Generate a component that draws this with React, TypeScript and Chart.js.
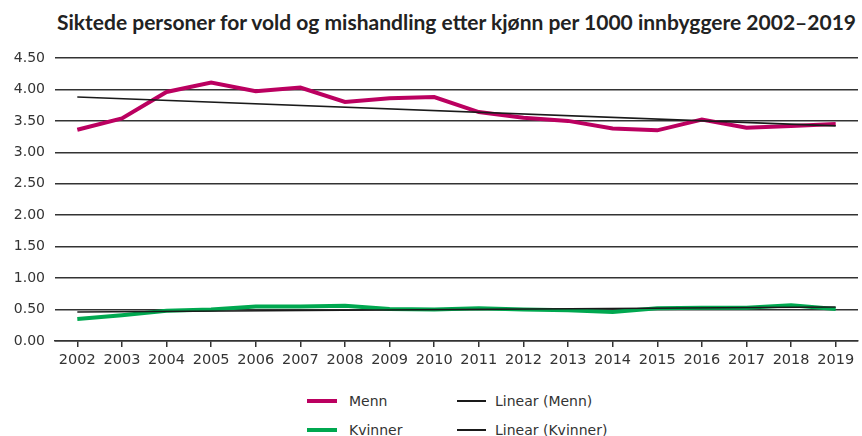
import React, { useEffect, useRef } from "react";
import { Chart, registerables } from "chart.js";

Chart.register(...registerables);

const TITLE = "Siktede personer for vold og mishandling etter kjønn per 1000 innbyggere 2002–2019";
const years = ["2002","2003","2004","2005","2006","2007","2008","2009","2010","2011","2012","2013","2014","2015","2016","2017","2018","2019"];
const menn = [3.36,3.54,3.96,4.11,3.97,4.03,3.80,3.86,3.88,3.64,3.55,3.50,3.38,3.35,3.52,3.39,3.42,3.45];
const kvinner = [0.35,0.41,0.48,0.50,0.55,0.55,0.56,0.51,0.50,0.52,0.50,0.49,0.46,0.52,0.53,0.53,0.57,0.51];
// linear trend lines: value at first year, value at last year
const trendMenn = [3.88, 3.42];
const trendKvinner = [0.46, 0.54];
const yTicks = [0, 0.5, 1, 1.5, 2, 2.5, 3, 3.5, 4, 4.5];

const MAGENTA = "#bb0060";
const GREEN = "#00a850";
const TEXT = "#333333";
const FONT = "'DejaVu Sans', sans-serif";

function trendSeries(t: number[]) {
  return years.map((_, i) => (i === 0 ? t[0] : i === years.length - 1 ? t[1] : null));
}

export default function App() {
  const ref = useRef<HTMLCanvasElement | null>(null);
  useEffect(() => {
    if (!ref.current) return;
    const chart = new Chart(ref.current, {
      type: "line",
      data: {
        labels: years,
        datasets: [
          { label: "Menn", data: menn, borderColor: MAGENTA, borderWidth: 4, pointRadius: 0, order: 2, tension: 0 },
          { label: "Linear (Menn)", data: trendSeries(trendMenn), borderColor: "#1a1a1a", borderWidth: 1.6, pointRadius: 0, spanGaps: true, order: 0 },
          { label: "Kvinner", data: kvinner, borderColor: GREEN, borderWidth: 4, pointRadius: 0, order: 2, tension: 0 },
          { label: "Linear (Kvinner)", data: trendSeries(trendKvinner), borderColor: "#1a1a1a", borderWidth: 1.6, pointRadius: 0, spanGaps: true, order: 0 },
        ],
      },
      options: {
        animation: false,
        responsive: false,
        layout: { padding: { top: 58, right: 4, left: 0, bottom: 0 } },
        plugins: { legend: { display: false }, tooltip: { enabled: false }, title: { display: false } },
        scales: {
          x: {
            offset: true,
            grid: { drawOnChartArea: false, drawTicks: true, tickLength: 6, color: "#333", lineWidth: 1.5 },
            border: { display: true, color: "#333", width: 1.5 },
            ticks: { color: TEXT, font: { family: FONT, size: 14.5 }, padding: 5, maxRotation: 0, autoSkip: false },
            afterFit: (s: any) => { s.height = 39; },
          },
          y: {
            min: 0,
            max: 4.5,
            afterBuildTicks: (s: any) => { s.ticks = yTicks.map((v) => ({ value: v })); },
            grid: { drawTicks: false, color: "#333", lineWidth: 1.5 },
            border: { display: false },
            ticks: { color: TEXT, font: { family: FONT, size: 14 }, padding: 10, callback: (v: any) => Number(v).toFixed(2) },
            afterFit: (s: any) => { s.width = 55; },
          },
        },
      },
    });
    return () => chart.destroy();
  }, []);

  const legendText: React.CSSProperties = { position: "absolute", fontFamily: FONT, fontSize: 14, color: TEXT, lineHeight: "16px" };
  const sw = (x: number, y: number, w: number, h: number, c: string): React.CSSProperties => ({ position: "absolute", left: x, top: y - h / 2, width: w, height: h, background: c });

  return (
    <div style={{ position: "absolute", left: 0, top: 0, width: 862, height: 436, background: "#fff", overflow: "hidden" }}>
      <div style={{ position: "absolute", left: 57, top: 8, fontFamily: "Lato, sans-serif", fontWeight: 700, fontSize: 21, lineHeight: "28px", color: "#222", whiteSpace: "nowrap" }}>{TITLE}</div>
      <canvas ref={ref} width={862} height={380} style={{ position: "absolute", left: 0, top: 0 }} />
      <div style={sw(307, 401, 30, 4, MAGENTA)} />
      <div style={{ ...legendText, left: 349, top: 393 }}>Menn</div>
      <div style={sw(457, 401, 29, 2, "#1a1a1a")} />
      <div style={{ ...legendText, left: 495, top: 393 }}>Linear (Menn)</div>
      <div style={sw(307, 430, 30, 4, GREEN)} />
      <div style={{ ...legendText, left: 349, top: 422 }}>Kvinner</div>
      <div style={sw(457, 430, 29, 2, "#1a1a1a")} />
      <div style={{ ...legendText, left: 495, top: 422 }}>Linear (Kvinner)</div>
    </div>
  );
}
